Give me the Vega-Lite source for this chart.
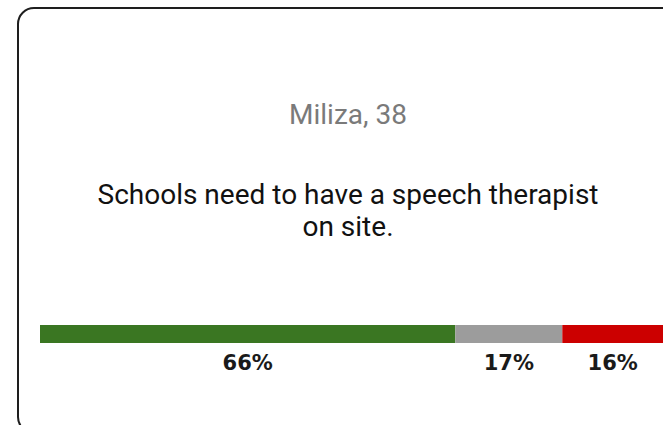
{
  "$schema": "https://vega.github.io/schema/vega-lite/v6.json",
  "autosize": "none",
  "width": 680,
  "height": 425,
  "padding": {"left": 18, "top": 8, "right": -35, "bottom": -8},
  "background": "white",
  "config": {
    "view": {"stroke": "#1e1e1e", "strokeWidth": 2, "cornerRadius": 16, "fill": "white"}
  },
  "title": {
    "text": "Miliza, 38",
    "subtitle": ["Schools need to have a speech therapist", "on site."],
    "orient": "top",
    "anchor": "middle",
    "frame": "group",
    "dx": -10,
    "offset": -234,
    "font": "Roboto",
    "fontSize": 28,
    "fontWeight": "normal",
    "color": "#7a7a7a",
    "subtitleFont": "Roboto",
    "subtitleFontSize": 28,
    "subtitleColor": "#111111",
    "subtitlePadding": 52,
    "subtitleLineHeight": 32
  },
  "data": {
    "values": [
      {"question": "Schools need to have a speech therapist on site.", "answer": "Agree", "order": 1, "share": 0.66},
      {"question": "Schools need to have a speech therapist on site.", "answer": "Neutral", "order": 2, "share": 0.17},
      {"question": "Schools need to have a speech therapist on site.", "answer": "Disagree", "order": 3, "share": 0.16}
    ]
  },
  "transform": [
    {"stack": "share", "groupby": ["question"], "sort": [{"field": "order"}], "as": ["s0", "s1"]},
    {"calculate": "(datum.s0 + datum.s1) / 2", "as": "mid"}
  ],
  "encoding": {
    "y": {
      "field": "question",
      "type": "nominal",
      "axis": null,
      "scale": {"paddingInner": 0.91155, "paddingOuter": 1, "align": 0.7789}
    }
  },
  "layer": [
    {
      "mark": {"type": "bar"},
      "encoding": {
        "x": {"field": "s0", "type": "quantitative", "axis": null, "scale": {"domain": [0, 0.99], "range": [22, 645], "nice": false, "zero": false}},
        "x2": {"field": "s1"},
        "color": {
          "field": "answer",
          "type": "nominal",
          "legend": null,
          "scale": {"domain": ["Agree", "Neutral", "Disagree"], "range": ["#3a7622", "#9c9c9c", "#cc0000"]}
        }
      }
    },
    {
      "mark": {"type": "text", "dy": 30, "baseline": "middle", "align": "center", "font": "DejaVu Sans", "fontSize": 21, "fontWeight": "bold", "color": "#1a1a1a"},
      "encoding": {
        "x": {"field": "mid", "type": "quantitative"},
        "text": {"field": "share", "type": "quantitative", "format": ".0%"}
      }
    }
  ]
}
